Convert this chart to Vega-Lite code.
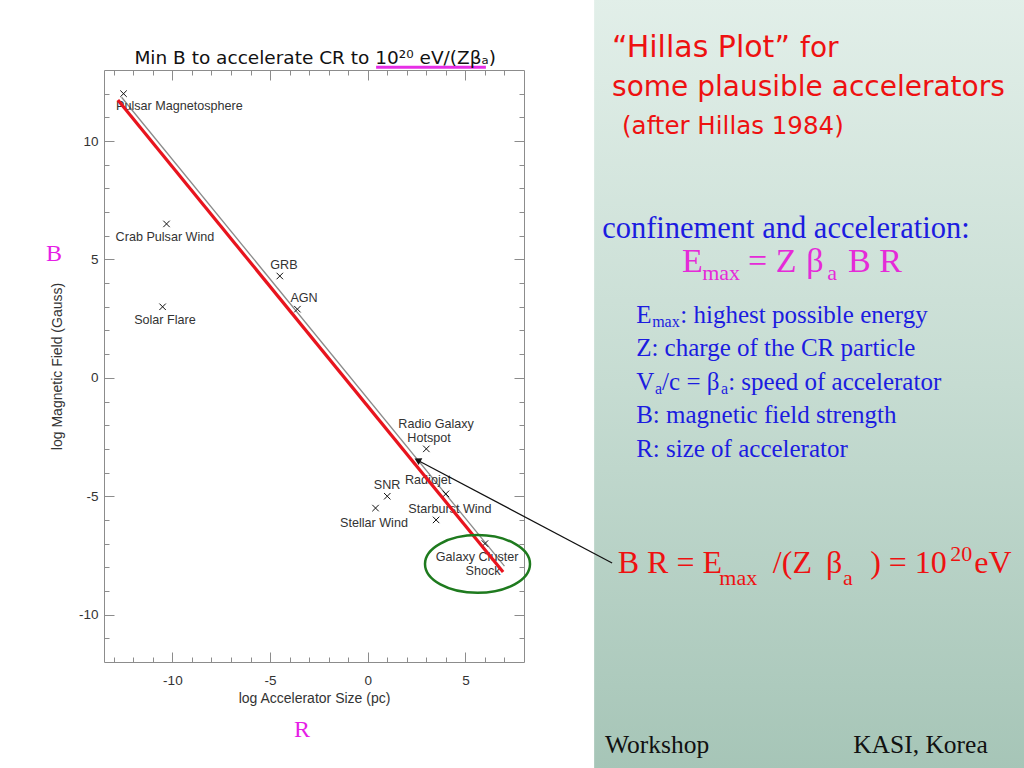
{
  "$schema": "https://vega.github.io/schema/vega-lite/v6.json",
  "width": 420,
  "height": 592,
  "autosize": {"type": "none"},
  "padding": {"left": 104, "top": 70, "right": 500, "bottom": 106},
  "background": "white",
  "config": {"view": {"stroke": "#8c8c8c", "strokeWidth": 1}},
  "datasets": {
    "pts": [
      {"name": "Pulsar Magnetosphere", "x": -12.5, "y": 12.0},
      {"name": "Crab Pulsar Wind", "x": -10.3, "y": 6.5},
      {"name": "Solar Flare", "x": -10.5, "y": 3.0},
      {"name": "GRB", "x": -4.5, "y": 4.3},
      {"name": "AGN", "x": -3.6, "y": 2.9},
      {"name": "Radio Galaxy Hotspot", "x": 3.0, "y": -3.0},
      {"name": "Radiojet", "x": 4.0, "y": -4.9},
      {"name": "SNR", "x": 1.0, "y": -5.0},
      {"name": "Stellar Wind", "x": 0.4, "y": -5.5},
      {"name": "Starburst Wind", "x": 3.5, "y": -6.0},
      {"name": "Galaxy Cluster Shock", "x": 6.0, "y": -7.0}
    ],
    "lbls": [
      {"t": "Pulsar Magnetosphere", "x": -9.64, "y": 11.48},
      {"t": "Crab Pulsar Wind", "x": -10.38, "y": 5.95},
      {"t": "Solar Flare", "x": -10.38, "y": 2.44},
      {"t": "GRB", "x": -4.29, "y": 4.76},
      {"t": "AGN", "x": -3.26, "y": 3.37},
      {"t": "Radio Galaxy", "x": 3.5, "y": -1.94},
      {"t": "Hotspot", "x": 3.14, "y": -2.56},
      {"t": "Radiojet", "x": 3.09, "y": -4.32},
      {"t": "SNR", "x": 0.99, "y": -4.53},
      {"t": "Starburst Wind", "x": 4.21, "y": -5.52},
      {"t": "Stellar Wind", "x": 0.32, "y": -6.13},
      {"t": "Galaxy Cluster", "x": 5.6, "y": -7.55},
      {"t": "Shock", "x": 5.9, "y": -8.17}
    ],
    "segs": [
      {"seg": "model", "x": -12.6, "y": 11.85, "x2": 7.0, "y2": -7.95},
      {"seg": "hl", "x": -12.79, "y": 11.73, "x2": 6.93, "y2": -8.2},
      {"seg": "arrow", "x": 12.51, "y": -7.82, "x2": 2.65, "y2": -3.52},
      {"seg": "underline", "x": 0.43, "y": 13.12, "x2": 6.05, "y2": 13.12}
    ],
    "marks": [
      {"m": "arrowhead", "x": 2.55, "y": -3.47},
      {"m": "ellipse", "x": 5.62, "y": -7.86}
    ],
    "panel": [
      {"x": 11.59, "x2": 33.8, "y": 16.1, "y2": -16.6}
    ],
    "notes": [
      {"k": "title", "t": "Min B to accelerate CR to 10²⁰ eV/(Zβₐ)", "x": -2.69, "y": 13.5},
      {"k": "letter", "t": "B", "x": -16.06, "y": 5.23},
      {"k": "letter", "t": "R", "x": -3.37, "y": -14.87},
      {"k": "hdr1", "t": "“Hillas Plot”", "x": 12.51, "y": 13.93},
      {"k": "hdrFor", "t": "for", "x": 22.13, "y": 13.88},
      {"k": "hdr", "t": "some plausible accelerators", "x": 12.51, "y": 12.24},
      {"k": "hdrSmall", "t": "(after Hillas 1984)", "x": 13.02, "y": 10.59},
      {"k": "blueBig", "t": "confinement and acceleration:", "x": 12.0, "y": 6.28},
      {"k": "mag", "t": "E", "x": 16.09, "y": 4.89},
      {"k": "magSub", "t": "max", "x": 17.12, "y": 4.43},
      {"k": "mag", "t": "= Z", "x": 19.47, "y": 4.89},
      {"k": "mag", "t": "β", "x": 22.45, "y": 4.89},
      {"k": "magSub", "t": "a", "x": 23.52, "y": 4.43},
      {"k": "mag", "t": "B R", "x": 24.59, "y": 4.89},
      {"k": "blue", "t": "E", "x": 13.74, "y": 2.65},
      {"k": "blueSub", "t": "max", "x": 14.56, "y": 2.36},
      {"k": "blue", "t": ": highest possible energy", "x": 16.0, "y": 2.65},
      {"k": "blue", "t": "Z: charge of the CR particle", "x": 13.74, "y": 1.26},
      {"k": "blue", "t": "V", "x": 13.74, "y": -0.18},
      {"k": "blueSub", "t": "a", "x": 14.71, "y": -0.47},
      {"k": "blue", "t": "/c = β", "x": 15.07, "y": -0.18},
      {"k": "blueSub", "t": "a", "x": 18.09, "y": -0.47},
      {"k": "blue", "t": ": speed of accelerator", "x": 18.45, "y": -0.18},
      {"k": "blue", "t": "B: magnetic field strength", "x": 13.74, "y": -1.57},
      {"k": "blue", "t": "R: size of accelerator", "x": 13.74, "y": -3.0},
      {"k": "red", "t": "B R = E", "x": 12.8, "y": -7.8},
      {"k": "redSub", "t": "max", "x": 18.0, "y": -8.45},
      {"k": "red", "t": "/(Z", "x": 20.74, "y": -7.8},
      {"k": "red", "t": "β", "x": 23.46, "y": -7.8},
      {"k": "redSub", "t": "a", "x": 24.33, "y": -8.45},
      {"k": "red", "t": ") = 10", "x": 25.72, "y": -7.8},
      {"k": "redSup", "t": "20", "x": 29.82, "y": -7.42},
      {"k": "red", "t": "eV", "x": 31.05, "y": -7.8},
      {"k": "foot", "t": "Workshop", "x": 12.15, "y": -15.5},
      {"k": "foot", "t": "KASI, Korea", "x": 24.85, "y": -15.5}
    ]
  },
  "encoding": {
    "x": {"field": "x", "type": "quantitative", "scale": {"domain": [-13.5, 8], "nice": false, "zero": false}, "axis": null},
    "y": {"field": "y", "type": "quantitative", "scale": {"domain": [-12, 13], "nice": false, "zero": false}, "axis": null}
  },
  "layer": [
    {
      "data": {"name": "panel"},
      "mark": {"type": "rect", "fill": {"gradient": "linear", "x1": 0, "y1": 0, "x2": 0, "y2": 1, "stops": [{"offset": 0, "color": "#e2efe9"}, {"offset": 0.5, "color": "#c6dcd2"}, {"offset": 1, "color": "#a6c5b7"}]}, "opacity": 1},
      "encoding": {
        "x2": {"field": "x2"},
        "y2": {"field": "y2"}
      }
    },
    {
      "data": {"name": "segs"},
      "transform": [{"filter": "datum.seg === 'model'"}],
      "mark": {"type": "rule", "color": "#8a8a8a", "strokeWidth": 1.3},
      "encoding": {
        "x": {"field": "x", "type": "quantitative", "axis": {"orient": "top", "values": [-13,-12,-11,-10,-9,-8,-7,-6,-5,-4,-3,-2,-1,0,1,2,3,4,5,6,7], "labels": false, "title": null, "domain": false, "grid": false, "tickColor": "#8c8c8c", "tickSize": {"condition": {"test": "datum.value % 5 === 0", "value": -10}, "value": -5}}},
        "y": {"field": "y", "type": "quantitative", "axis": {"orient": "right", "values": [-11,-10,-9,-8,-7,-6,-5,-4,-3,-2,-1,0,1,2,3,4,5,6,7,8,9,10,11,12], "labels": false, "title": null, "domain": false, "grid": false, "tickColor": "#8c8c8c", "tickSize": {"condition": {"test": "datum.value % 5 === 0", "value": -10}, "value": -5}}},
        "x2": {"field": "x2"},
        "y2": {"field": "y2"}
      }
    },
    {
      "data": {"name": "pts"},
      "mark": {"type": "point", "shape": "M -1 -1 L 1 1 M -1 1 L 1 -1", "size": 42, "filled": false, "color": "#111111", "strokeWidth": 1, "opacity": 1},
      "encoding": {
        "x": {"field": "x", "type": "quantitative", "axis": {"orient": "bottom", "values": [-13,-12,-11,-10,-9,-8,-7,-6,-5,-4,-3,-2,-1,0,1,2,3,4,5,6,7], "labelExpr": "datum.value % 5 === 0 ? '' + datum.value : ''", "title": "log Accelerator Size (pc)", "domain": false, "grid": false, "tickColor": "#8c8c8c", "tickSize": {"condition": {"test": "datum.value % 5 === 0", "value": -10}, "value": -5}, "labelFont": "Liberation Sans", "labelFontSize": 13.5, "labelColor": "#333333", "labelPadding": 21, "titleFont": "Liberation Sans", "titleFontSize": 14, "titleFontWeight": "normal", "titleColor": "#333333", "titlePadding": 5}},
        "y": {"field": "y", "type": "quantitative", "axis": {"orient": "left", "values": [-11,-10,-9,-8,-7,-6,-5,-4,-3,-2,-1,0,1,2,3,4,5,6,7,8,9,10,11,12], "labelExpr": "datum.value % 5 === 0 ? '' + datum.value : ''", "title": "log Magnetic Field (Gauss)", "domain": false, "grid": false, "tickColor": "#8c8c8c", "tickSize": {"condition": {"test": "datum.value % 5 === 0", "value": -10}, "value": -5}, "labelFont": "Liberation Sans", "labelFontSize": 13.5, "labelColor": "#333333", "labelPadding": 16, "titleFont": "Liberation Sans", "titleFontSize": 14, "titleFontWeight": "normal", "titleColor": "#333333", "titlePadding": 14}}
      }
    },
    {
      "data": {"name": "lbls"},
      "mark": {"type": "text", "font": "Liberation Sans", "fontSize": 12.6, "color": "#333333", "align": "center", "baseline": "middle"},
      "encoding": {"text": {"field": "t"}}
    },
    {
      "data": {"name": "segs"},
      "transform": [{"filter": "datum.seg === 'hl'"}],
      "mark": {"type": "rule", "color": "#e8141e", "strokeWidth": 3.2},
      "encoding": {"x2": {"field": "x2"}, "y2": {"field": "y2"}}
    },
    {
      "data": {"name": "segs"},
      "transform": [{"filter": "datum.seg === 'underline'"}],
      "mark": {"type": "rule", "color": "#e62ee6", "strokeWidth": 3},
      "encoding": {"x2": {"field": "x2"}, "y2": {"field": "y2"}}
    },
    {
      "data": {"name": "segs"},
      "transform": [{"filter": "datum.seg === 'arrow'"}],
      "mark": {"type": "rule", "color": "#111111", "strokeWidth": 1.2},
      "encoding": {"x2": {"field": "x2"}, "y2": {"field": "y2"}}
    },
    {
      "data": {"name": "marks"},
      "transform": [{"filter": "datum.m === 'arrowhead'"}],
      "mark": {"type": "point", "shape": "triangle-up", "size": 60, "filled": true, "color": "#111111", "opacity": 1, "angle": 298}
    },
    {
      "data": {"name": "marks"},
      "transform": [{"filter": "datum.m === 'ellipse'"}],
      "mark": {"type": "point", "shape": "M -1 0 A 1 0.55 0 1 1 1 0 A 1 0.55 0 1 1 -1 0 Z", "size": 11025, "filled": false, "color": "#1e7a1e", "strokeWidth": 2.5, "opacity": 1}
    },
    {
      "data": {"name": "notes"},
      "transform": [{"filter": "datum.k === 'title'"}],
      "mark": {"type": "text", "font": "DejaVu Sans", "fontSize": 18.5, "color": "#111111", "align": "center", "baseline": "middle"},
      "encoding": {"text": {"field": "t"}}
    },
    {
      "data": {"name": "notes"},
      "transform": [{"filter": "datum.k === 'letter'"}],
      "mark": {"type": "text", "font": "Liberation Serif", "fontSize": 24, "color": "#e61ee6", "align": "center", "baseline": "middle"},
      "encoding": {"text": {"field": "t"}}
    },
    {
      "data": {"name": "notes"},
      "transform": [{"filter": "datum.k === 'hdr1'"}],
      "mark": {"type": "text", "font": "DejaVu Sans", "fontSize": 30, "color": "#ee1111", "align": "left", "baseline": "middle"},
      "encoding": {"text": {"field": "t"}}
    },
    {
      "data": {"name": "notes"},
      "transform": [{"filter": "datum.k === 'hdrFor'"}],
      "mark": {"type": "text", "font": "DejaVu Sans", "fontSize": 28, "color": "#ee1111", "align": "left", "baseline": "middle"},
      "encoding": {"text": {"field": "t"}}
    },
    {
      "data": {"name": "notes"},
      "transform": [{"filter": "datum.k === 'hdr'"}],
      "mark": {"type": "text", "font": "DejaVu Sans", "fontSize": 28, "color": "#ee1111", "align": "left", "baseline": "middle"},
      "encoding": {"text": {"field": "t"}}
    },
    {
      "data": {"name": "notes"},
      "transform": [{"filter": "datum.k === 'hdrSmall'"}],
      "mark": {"type": "text", "font": "DejaVu Sans", "fontSize": 24.5, "color": "#ee1111", "align": "left", "baseline": "middle"},
      "encoding": {"text": {"field": "t"}}
    },
    {
      "data": {"name": "notes"},
      "transform": [{"filter": "datum.k === 'blueBig'"}],
      "mark": {"type": "text", "font": "Liberation Serif", "fontSize": 30.5, "color": "#1c1ce0", "align": "left", "baseline": "middle"},
      "encoding": {"text": {"field": "t"}}
    },
    {
      "data": {"name": "notes"},
      "transform": [{"filter": "datum.k === 'blue'"}],
      "mark": {"type": "text", "font": "Liberation Serif", "fontSize": 25, "color": "#1c1ce0", "align": "left", "baseline": "middle"},
      "encoding": {"text": {"field": "t"}}
    },
    {
      "data": {"name": "notes"},
      "transform": [{"filter": "datum.k === 'blueSub'"}],
      "mark": {"type": "text", "font": "Liberation Serif", "fontSize": 16, "color": "#1c1ce0", "align": "left", "baseline": "middle"},
      "encoding": {"text": {"field": "t"}}
    },
    {
      "data": {"name": "notes"},
      "transform": [{"filter": "datum.k === 'mag'"}],
      "mark": {"type": "text", "font": "Liberation Serif", "fontSize": 34, "color": "#e52ad8", "align": "left", "baseline": "middle"},
      "encoding": {"text": {"field": "t"}}
    },
    {
      "data": {"name": "notes"},
      "transform": [{"filter": "datum.k === 'magSub'"}],
      "mark": {"type": "text", "font": "Liberation Serif", "fontSize": 22, "color": "#e52ad8", "align": "left", "baseline": "middle"},
      "encoding": {"text": {"field": "t"}}
    },
    {
      "data": {"name": "notes"},
      "transform": [{"filter": "datum.k === 'red'"}],
      "mark": {"type": "text", "font": "Liberation Serif", "fontSize": 32, "color": "#ee1111", "align": "left", "baseline": "middle"},
      "encoding": {"text": {"field": "t"}}
    },
    {
      "data": {"name": "notes"},
      "transform": [{"filter": "datum.k === 'redSub' || datum.k === 'redSup'"}],
      "mark": {"type": "text", "font": "Liberation Serif", "fontSize": 22, "color": "#ee1111", "align": "left", "baseline": "middle"},
      "encoding": {"text": {"field": "t"}}
    },
    {
      "data": {"name": "notes"},
      "transform": [{"filter": "datum.k === 'foot'"}],
      "mark": {"type": "text", "font": "Liberation Serif", "fontSize": 25.5, "color": "#111111", "align": "left", "baseline": "middle"},
      "encoding": {"text": {"field": "t"}}
    }
  ],
  "resolve": {"axis": {"x": "independent", "y": "independent"}}
}
